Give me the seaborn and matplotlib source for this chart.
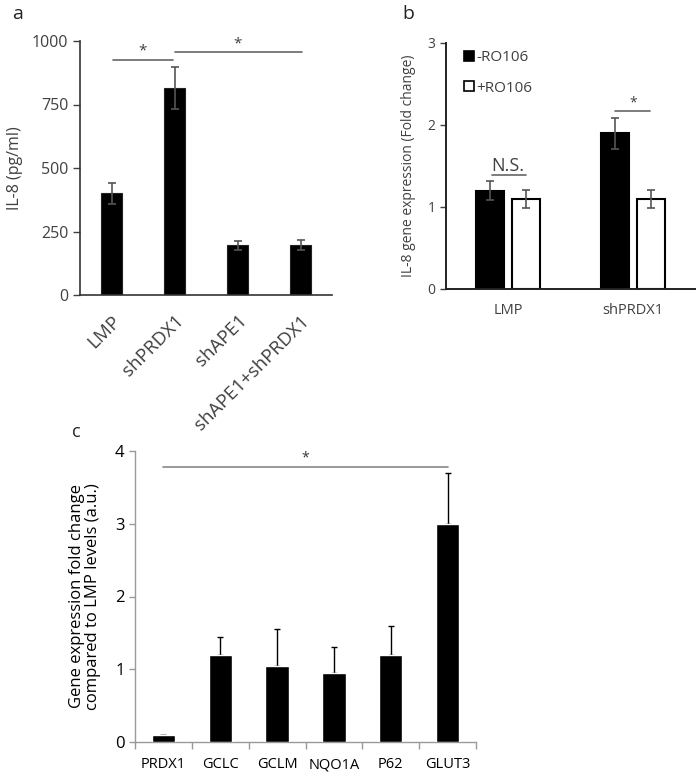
import matplotlib
matplotlib.use("Agg")
import matplotlib.pyplot as plt
import seaborn as sns
import pandas as pd
import numpy as np
from matplotlib.lines import Line2D

sns.set_theme(style="white")
plt.rcParams['font.family'] = ['Open Sans', 'DejaVu Sans']

# Panel a data
a_cats = ["LMP", "shPRDX1", "shAPE1", "shAPE1+shPRDX1"]
a_vals = [400, 815, 195, 198]
a_errs = [40, 83, 18, 20]

# Panel b data
b_cats = ["LMP", "shPRDX1"]
b_hue = ["-RO106", "+RO106"]
b_minus = [1.2, 1.9]
b_plus = [1.1, 1.1]
b_minus_err = [0.12, 0.19]
b_plus_err = [0.11, 0.11]

# Panel c data
c_cats = ["PRDX1", "GCLC", "GCLM", "NQO1A", "P62", "GLUT3"]
c_vals = [0.1, 1.2, 1.05, 0.95, 1.2, 3.0]
c_errs = [0.0, 0.25, 0.5, 0.35, 0.4, 0.7]

W, H = 697, 773
fig = plt.figure(figsize=(W / 100, H / 100), dpi=100)

def fr(x0, x1, ytop, ybot):
    return [x0 / W, 1 - ybot / H, (x1 - x0) / W, (ybot - ytop) / H]

txt = "#404040"
errc = "#555555"

# ---------------- Panel a ----------------
axa = fig.add_axes(fr(80, 332, 41, 295))
dfa = pd.DataFrame({"cat": a_cats, "val": a_vals})
sns.barplot(data=dfa, x="cat", y="val", color="black", width=0.32,
            edgecolor="#222222", linewidth=0.8, errorbar=None, ax=axa)
axa.errorbar(np.arange(len(a_cats)), a_vals, yerr=a_errs, fmt="none",
             ecolor=errc, elinewidth=1.2, capsize=3, capthick=1.2)
axa.set_xlim(-0.5, 3.5)
axa.set_ylim(0, 1000)
axa.set_yticks([0, 250, 500, 750, 1000])
axa.set_xlabel("")
axa.set_ylabel("IL-8 (pg/ml)", fontsize=11.5, color=txt, labelpad=6)
axa.tick_params(axis="y", labelsize=11.5, colors=txt, length=5, width=1, direction="out", left=True)
axa.tick_params(axis="x", labelsize=13.5, colors=txt, length=0, pad=12)
plt.setp(axa.get_xticklabels(), rotation=45, ha="right", rotation_mode="anchor")
for s in ["top", "right"]:
    axa.spines[s].set_visible(False)
for s in ["left", "bottom"]:
    axa.spines[s].set_color("#333333")
    axa.spines[s].set_linewidth(1.2)
axa.plot([0.03, 0.98], [925, 925], color="#666666", lw=1.2, clip_on=False)
axa.text(0.5, 930, "*", ha="center", va="bottom", fontsize=11, color=txt)
axa.plot([1.0, 3.02], [955, 955], color="#666666", lw=1.2, clip_on=False)
axa.text(2.0, 960, "*", ha="center", va="bottom", fontsize=11, color=txt)
fig.text(12 / W, 1 - 14 / H, "a", fontsize=14, color="#222222", va="center", ha="left")

# ---------------- Panel b ----------------
axb = fig.add_axes(fr(446, 695, 43, 289))
dfb = pd.DataFrame({
    "cat": b_cats * 2,
    "cond": [b_hue[0]] * 2 + [b_hue[1]] * 2,
    "val": b_minus + b_plus,
})
sns.barplot(data=dfb, x="cat", y="val", hue="cond", hue_order=b_hue,
            palette={"-RO106": "black", "+RO106": "white"}, width=0.58, gap=0.22,
            edgecolor="black", linewidth=1.5, errorbar=None, ax=axb, legend=False)
xc = np.arange(len(b_cats))
axb.errorbar(xc - 0.145, b_minus, yerr=b_minus_err, fmt="none", ecolor=errc,
             elinewidth=1.2, capsize=3, capthick=1.2)
axb.errorbar(xc + 0.145, b_plus, yerr=b_plus_err, fmt="none", ecolor=errc,
             elinewidth=1.2, capsize=3, capthick=1.2)
axb.set_xlim(-0.5, 1.5)
axb.set_ylim(0, 3)
axb.set_yticks([0, 1, 2, 3])
axb.set_xlabel("")
axb.set_ylabel("IL-8 gene expression (Fold change)", fontsize=10, color=txt, labelpad=8)
axb.tick_params(axis="y", labelsize=10, colors=txt, length=4, width=1, direction="out", left=True)
axb.tick_params(axis="x", labelsize=10.5, colors=txt, length=0, pad=10)
for s in ["top", "right"]:
    axb.spines[s].set_visible(False)
for s in ["left", "bottom"]:
    axb.spines[s].set_color("#222222")
    axb.spines[s].set_linewidth(1.4)
axb.plot([-0.13, 0.14], [1.39, 1.39], color="#666666", lw=1.2)
axb.text(0.0, 1.39, "N.S.", ha="center", va="bottom", fontsize=13, color=txt)
axb.plot([0.86, 1.14], [2.17, 2.17], color="#666666", lw=1.2)
axb.text(1.0, 2.18, "*", ha="center", va="bottom", fontsize=10, color=txt)
handles = [Line2D([], [], marker="s", linestyle="none", markersize=7,
                  markerfacecolor="black", markeredgecolor="black", markeredgewidth=1.2),
           Line2D([], [], marker="s", linestyle="none", markersize=7,
                  markerfacecolor="white", markeredgecolor="black", markeredgewidth=1.2)]
axb.legend(handles, b_hue, loc="upper left", bbox_to_anchor=(0.05, 0.995), frameon=False,
           fontsize=11, labelcolor=txt, handlelength=0.6, handletextpad=0.15,
           labelspacing=1.0, borderaxespad=0)
fig.text(402 / W, 1 - 14 / H, "b", fontsize=14, color="#222222", va="center", ha="left")

# ---------------- Panel c ----------------
axc = fig.add_axes(fr(135, 476, 451, 742))
dfc = pd.DataFrame({"cat": c_cats, "val": c_vals})
sns.barplot(data=dfc, x="cat", y="val", color="black", width=0.41,
            errorbar=None, ax=axc, zorder=3)
xc3 = np.arange(len(c_cats))
axc.errorbar(xc3, c_vals, yerr=[np.zeros(len(c_errs)), c_errs], fmt="none",
             ecolor="black", elinewidth=1.0, capsize=2.5, capthick=1.0, zorder=2)
axc.set_xlim(-0.5, 5.5)
axc.set_ylim(0, 4)
axc.set_yticks([0, 1, 2, 3, 4])
axc.set_xticks(np.arange(-0.5, 6.0, 1.0))
axc.set_xticklabels([])
axc.set_xticks(xc3, minor=True)
axc.set_xticklabels(c_cats, minor=True)
axc.set_xlabel("")
axc.set_ylabel("Gene expression fold change\ncompared to LMP levels (a.u.)",
               fontsize=12, color="black", labelpad=10, linespacing=1.0)
axc.tick_params(axis="y", labelsize=12, colors="black", length=4, width=1,
                direction="out", left=True, color="#999999")
axc.tick_params(axis="x", which="major", length=5, width=1, direction="out",
                bottom=True, color="#999999")
axc.tick_params(axis="x", which="minor", length=0, labelsize=10.5, labelcolor="black", pad=11)
for s in ["top", "right"]:
    axc.spines[s].set_visible(False)
for s in ["left", "bottom"]:
    axc.spines[s].set_color("#999999")
    axc.spines[s].set_linewidth(1.0)
axc.plot([0.0, 5.0], [3.78, 3.78], color="#888888", lw=1.2)
axc.text(2.5, 3.80, "*", ha="center", va="bottom", fontsize=10, color="#333333")
fig.text(72 / W, 1 - 432 / H, "c", fontsize=13, color="#222222", va="center", ha="left")

fig.savefig("out.png", dpi=100)
